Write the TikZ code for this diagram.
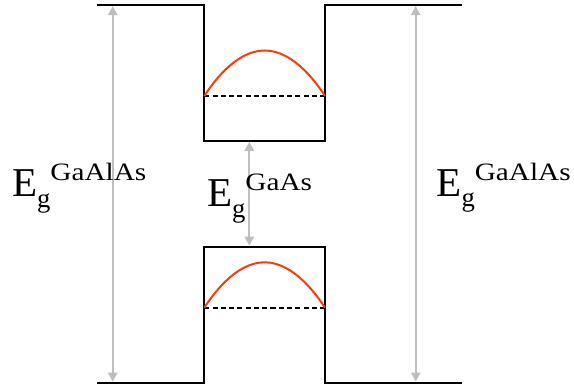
\documentclass[tikz,border=0pt]{standalone}
\usepackage{fontspec}
\setmainfont{Liberation Serif}
\usetikzlibrary{arrows.meta}
\definecolor{gapgray}{RGB}{190,190,190}
\definecolor{wavered}{RGB}{250,60,10}
\newcommand\Eglab[1]{\fontsize{30.75pt}{31pt}\selectfont E\raisebox{-7.8pt}{\fontsize{20pt}{20pt}\selectfont g}\raisebox{12pt}{\scalebox{1.17}[1]{\fontsize{18.75pt}{19pt}\selectfont #1}}}
\begin{document}
\begin{tikzpicture}[x=0.75pt,y=-0.75pt,
  band/.style={line width=1.6pt, black, line join=miter},
  level/.style={line width=1.4pt, black, dash pattern=on 3.8pt off 2.4pt},
  wave/.style={line width=1.5pt, wavered},
  gaparrow/.style={line width=1.4pt, gapgray,
    {Triangle[length=6.8pt,width=7pt]}-{Triangle[length=6.8pt,width=7pt]}},
  lab/.style={anchor=base west, inner sep=0pt}]
\useasboundingbox (0,0) rectangle (574,391);
% band edges
\coordinate (tl) at (97,5);
\coordinate (tr) at (461.7,5);
\coordinate (bl) at (97,382.7);
\coordinate (br) at (461.7,382.7);
\draw[band] (tl) -- (204.3,5) -- (204.3,140.7) -- (325,140.7) -- (325,5) -- (tr);
\draw[band] (bl) -- (204.3,382.7) -- (204.3,246.7) -- (325,246.7) -- (325,382.7) -- (br);
% confined levels
\draw[level] (204.3,96) -- (325,96);
\draw[level] (204.3,307.7) -- (325,307.7);
\draw[wave] (204.3,96) parabola bend (264.65,50.5) (325,96);
\draw[wave] (204.3,307.7) parabola bend (264.65,262.3) (325,307.7);
% gap arrows
\coordinate (a1t) at (112.7,6.1);
\coordinate (a1b) at (112.7,381.6);
\coordinate (a2t) at (415.7,6.1);
\coordinate (a2b) at (415.7,381.6);
\coordinate (a3t) at (249.3,141.8);
\coordinate (a3b) at (249.3,245.6);
\draw[gaparrow] (a1t) -- (a1b);
\draw[gaparrow] (a2t) -- (a2b);
\draw[gaparrow] (a3t) -- (a3b);
% labels
\node[lab] (lleft) at (11.8,197) {\Eglab{GaAlAs}};
\node[lab] (lmid) at (206.8,207) {\Eglab{GaAs}};
\node[lab] (lright) at (436.2,196.5) {\Eglab{GaAlAs}};
\end{tikzpicture}
\end{document}
